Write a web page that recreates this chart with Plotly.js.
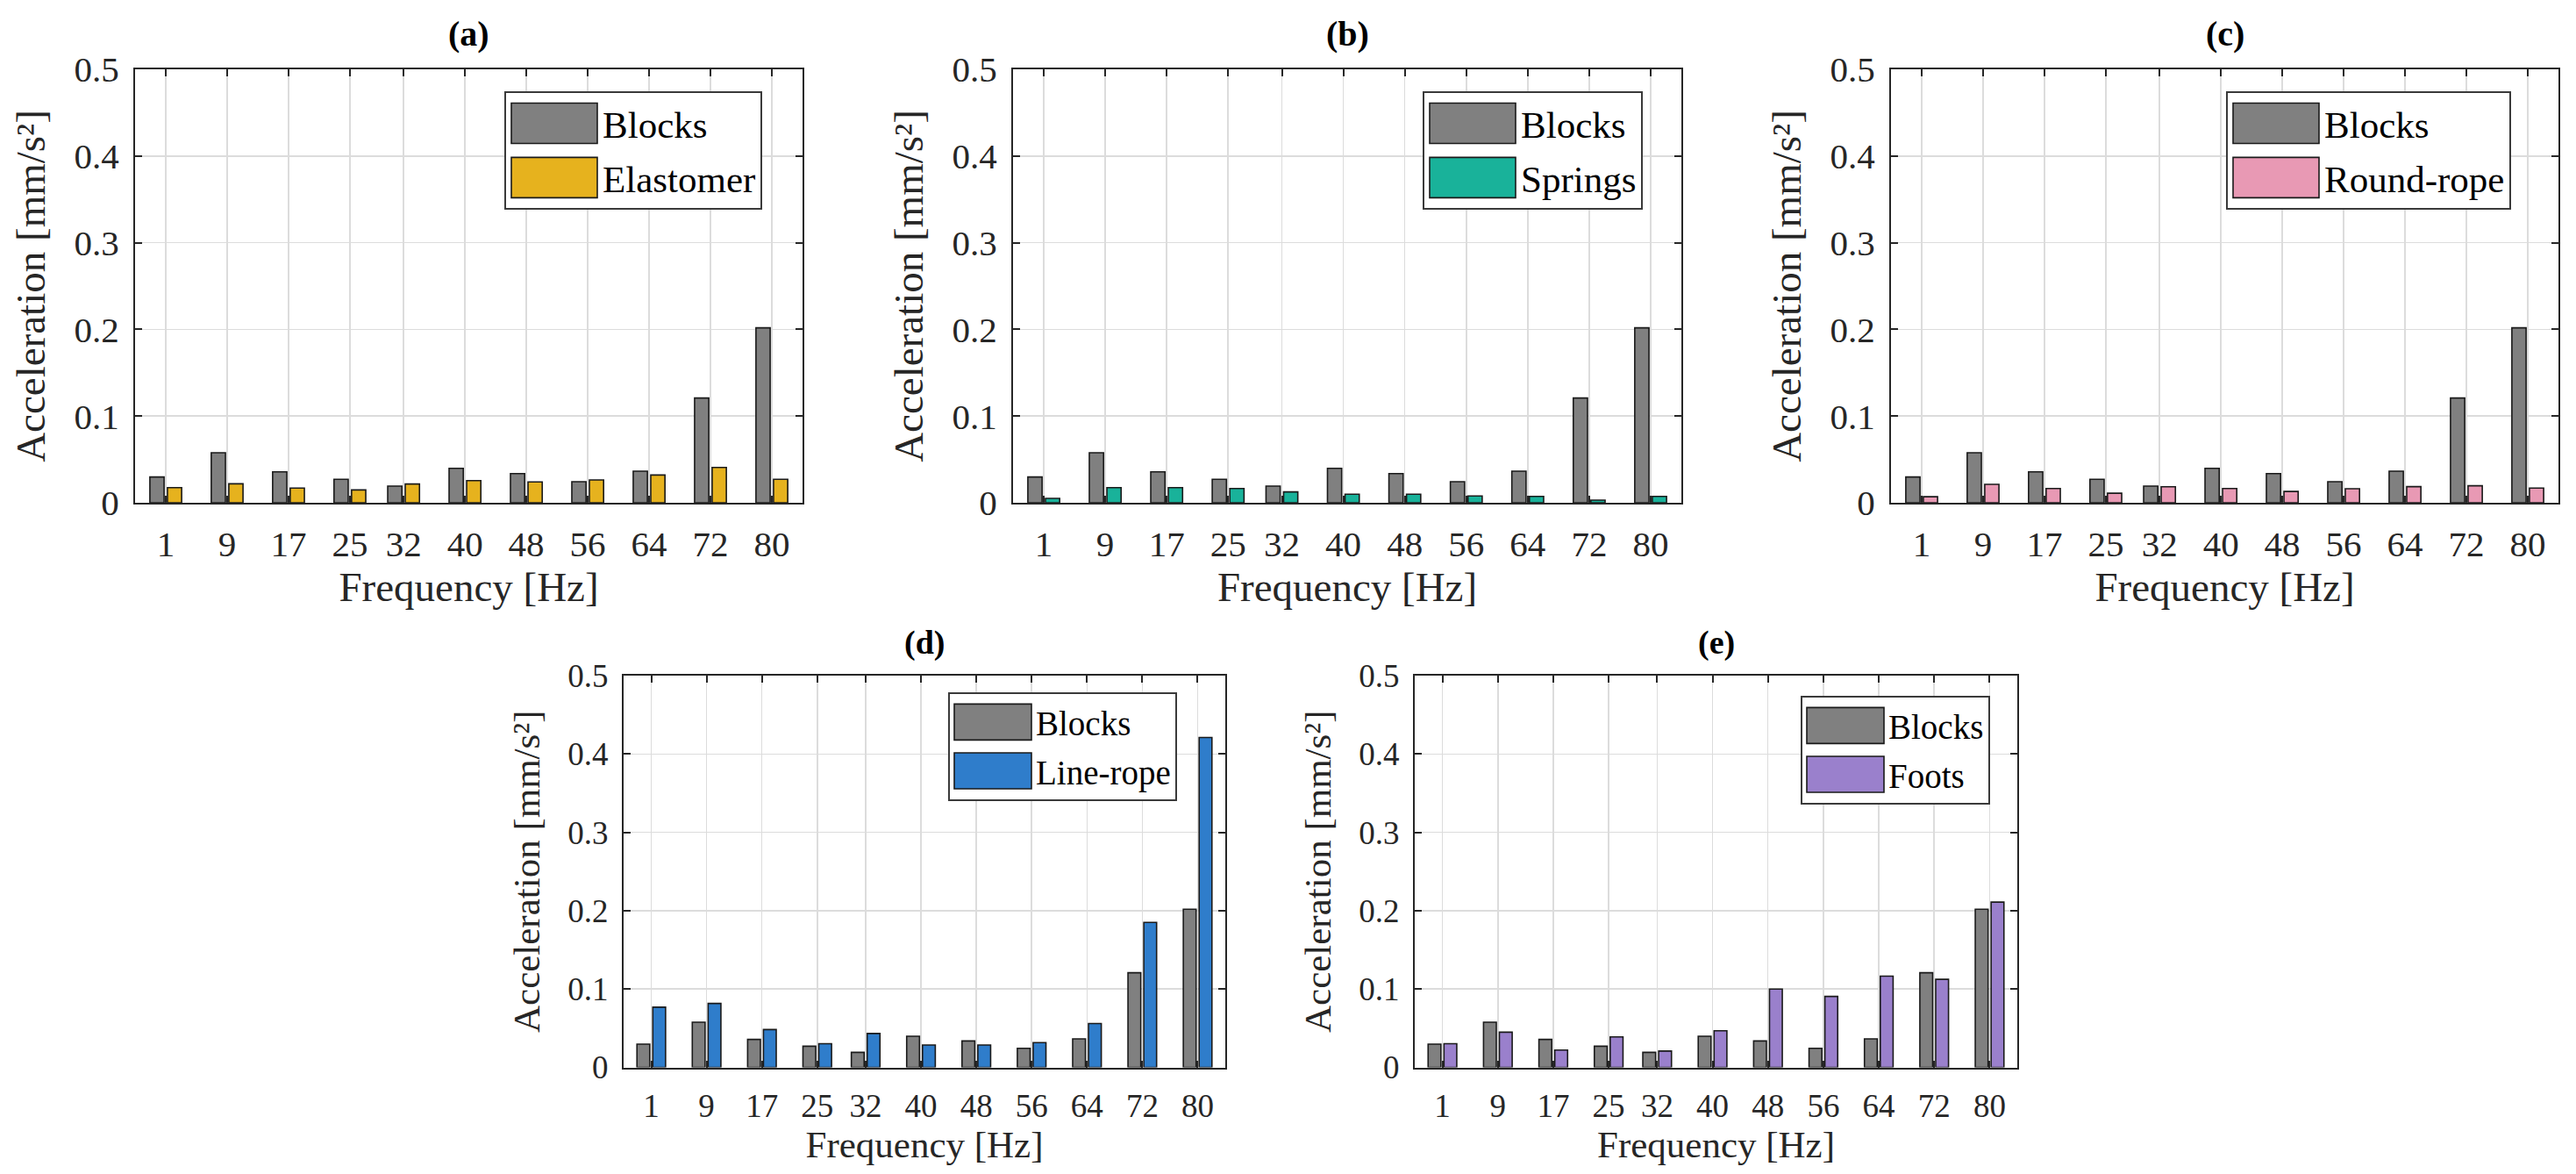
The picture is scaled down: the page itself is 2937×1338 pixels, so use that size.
<!DOCTYPE html>
<html>
<head>
<meta charset="utf-8">
<script src="https://cdn.plot.ly/plotly-3.0.1.min.js"></script>
<style>
  html, body { margin: 0; padding: 0; background: #ffffff; }
  #chart { width: 2937px; height: 1338px; }
</style>
</head>
<body>
<div id="chart"></div>
<script>
// ---- data ----
const freq = [1, 9, 17, 25, 32, 40, 48, 56, 64, 72, 80];
const freqLabels = ["1", "9", "17", "25", "32", "40", "48", "56", "64", "72", "80"];
const blocks    = [0.0297, 0.0577, 0.0357, 0.0270, 0.0192, 0.0398, 0.0337, 0.0243, 0.0364, 0.1208, 0.2018];
const elastomer = [0.0175, 0.0219, 0.0169, 0.0148, 0.0216, 0.0256, 0.0240, 0.0263, 0.0320, 0.0408, 0.0270];
const springs   = [0.0050, 0.0175, 0.0175, 0.0165, 0.0125, 0.0098, 0.0098, 0.0078, 0.0074, 0.0030, 0.0074];
const roundRope = [0.0070, 0.0212, 0.0165, 0.0110, 0.0185, 0.0165, 0.0130, 0.0162, 0.0186, 0.0196, 0.0169];
const lineRope  = [0.0769, 0.0816, 0.0483, 0.0303, 0.0432, 0.0286, 0.0286, 0.0316, 0.0560, 0.1850, 0.4210];
const foots     = [0.0303, 0.0449, 0.0222, 0.0389, 0.0209, 0.0468, 0.1000, 0.0906, 0.1165, 0.1124, 0.2110];

const panelTitles = ["(a)", "(b)", "(c)", "(d)", "(e)"];
const seriesNames = ["Elastomer", "Springs", "Round-rope", "Line-rope", "Foots"];
const seriesValues = [elastomer, springs, roundRope, lineRope, foots];
const seriesColors = ["#E6B21E", "#19B29A", "#E899B4", "#2F7DCB", "#9A80CC"];
const blocksName = "Blocks";
const blocksColor = "#808080";
const xTitle = "Frequency [Hz]";
const yTitle = "Acceleration [mm/s\u00B2]";

// ---- layout geometry (pixels of the 2937x1338 page) ----
const W = 2937, H = 1338;
const panels = [
  {x0: 154,  x1: 915,  y0: 79,  y1: 573,    legLeft: 575,  legTop: 104, big: true},
  {x0: 1155, x1: 1917, y0: 79,  y1: 573,    legLeft: 1622, legTop: 104, big: true},
  {x0: 2156, x1: 2917, y0: 79,  y1: 573,    legLeft: 2538, legTop: 104, big: true},
  {x0: 711,  x1: 1397, y0: 770, y1: 1216.5, legLeft: 1081, legTop: 789, big: false},
  {x0: 1613, x1: 2300, y0: 770, y1: 1216.5, legLeft: 2053, legTop: 793, big: false}
];
const titleY = [38, 38, 38, 733, 733];

const FONT = "'Liberation Serif', 'DejaVu Serif', serif";
const AX = "#262626";

const data = [];
const layout = {
  width: W, height: H,
  margin: {l: 0, r: 0, t: 0, b: 0},
  paper_bgcolor: "#ffffff",
  plot_bgcolor: "#ffffff",
  barmode: "overlay",
  showlegend: true,
  font: {family: FONT, color: "#000000"},
  annotations: []
};

const barW = 1.85;
panels.forEach((p, i) => {
  const n = i + 1;
  const xa = "x" + (n === 1 ? "" : n);
  const ya = "y" + (n === 1 ? "" : n);
  const legId = "legend" + (n === 1 ? "" : n);
  const tickSize = p.big ? 41 : 37;
  const titleSize = p.big ? 47 : 43;
  const legSize = p.big ? 43 : 39;

  data.push({
    type: "bar", x: freq, y: blocks, name: blocksName,
    xaxis: xa, yaxis: ya, legend: legId, legendgroup: "b" + n,
    width: barW, offset: -2.07,
    marker: {color: blocksColor, line: {color: "#1a1a1a", width: 1.6}},
    hoverinfo: "skip"
  });
  data.push({
    type: "bar", x: freq, y: seriesValues[i], name: seriesNames[i],
    xaxis: xa, yaxis: ya, legend: legId, legendgroup: "s" + n,
    width: barW, offset: 0.22,
    marker: {color: seriesColors[i], line: {color: "#1a1a1a", width: 1.6}},
    hoverinfo: "skip"
  });

  const xKey = "xaxis" + (n === 1 ? "" : n);
  const yKey = "yaxis" + (n === 1 ? "" : n);
  layout[xKey] = {
    domain: [p.x0 / W, p.x1 / W],
    anchor: ya,
    range: [-3, 84],
    tickmode: "array", tickvals: freq, ticktext: freqLabels,
    ticks: "inside", ticklen: 8, tickwidth: 2, tickcolor: AX,
    showline: true, linecolor: AX, linewidth: 2, mirror: "allticks",
    showgrid: true, gridcolor: "#dcdcdc", gridwidth: 1.5,
    zeroline: false,
    tickfont: {family: FONT, size: tickSize, color: "#262626"},
    ticklabelstandoff: 10,
    title: {text: xTitle, font: {family: FONT, size: titleSize, color: "#262626"}, standoff: 8},
    fixedrange: true
  };
  layout[yKey] = {
    domain: [1 - p.y1 / H, 1 - p.y0 / H],
    anchor: xa,
    range: [0, 0.5],
    tickmode: "linear", tick0: 0, dtick: 0.1,
    ticks: "inside", ticklen: 8, tickwidth: 2, tickcolor: AX,
    showline: true, linecolor: AX, linewidth: 2, mirror: "allticks",
    showgrid: true, gridcolor: "#dcdcdc", gridwidth: 1.5,
    zeroline: false,
    tickfont: {family: FONT, size: tickSize, color: "#262626"},
    ticklabelstandoff: 8,
    title: {text: yTitle, font: {family: FONT, size: titleSize, color: "#262626"}, standoff: 18},
    fixedrange: true
  };
  layout[legId] = {
    x: p.legLeft / W, y: 1 - p.legTop / H,
    xanchor: "left", yanchor: "top",
    xref: "paper", yref: "paper",
    bgcolor: "#ffffff", bordercolor: "#3a3a3a", borderwidth: 2,
    font: {family: FONT, size: legSize, color: "#000000"},
    itemwidth: p.big ? 100 : 88,
    traceorder: "grouped", tracegroupgap: p.big ? 3 : 2,
    itemclick: false, itemdoubleclick: false
  };
  layout.annotations.push({
    text: "<b>" + panelTitles[i] + "</b>",
    xref: "paper", yref: "paper",
    x: (p.x0 + p.x1) / 2 / W, y: 1 - titleY[i] / H,
    xanchor: "center", yanchor: "middle",
    showarrow: false,
    font: {family: FONT, size: p.big ? 40 : 38, color: "#000000"}
  });
});

function enlargeSwatches(gd) {
  const paths = gd.querySelectorAll("g.legendpoints path");
  paths.forEach(function (path) {
    const r = path.getBoundingClientRect();
    const big = r.top < 600;
    const hw = big ? 49 : 44, hh = big ? 23 : 20.5;
    path.setAttribute("d", "M" + hw + "," + hh + "H-" + hw + "V-" + hh + "H" + hw + "Z");
  });
}

Plotly.newPlot("chart", data, layout, {staticPlot: true, displayModeBar: false}).then(function (gd) {
  enlargeSwatches(gd);
});
</script>
</body>
</html>
